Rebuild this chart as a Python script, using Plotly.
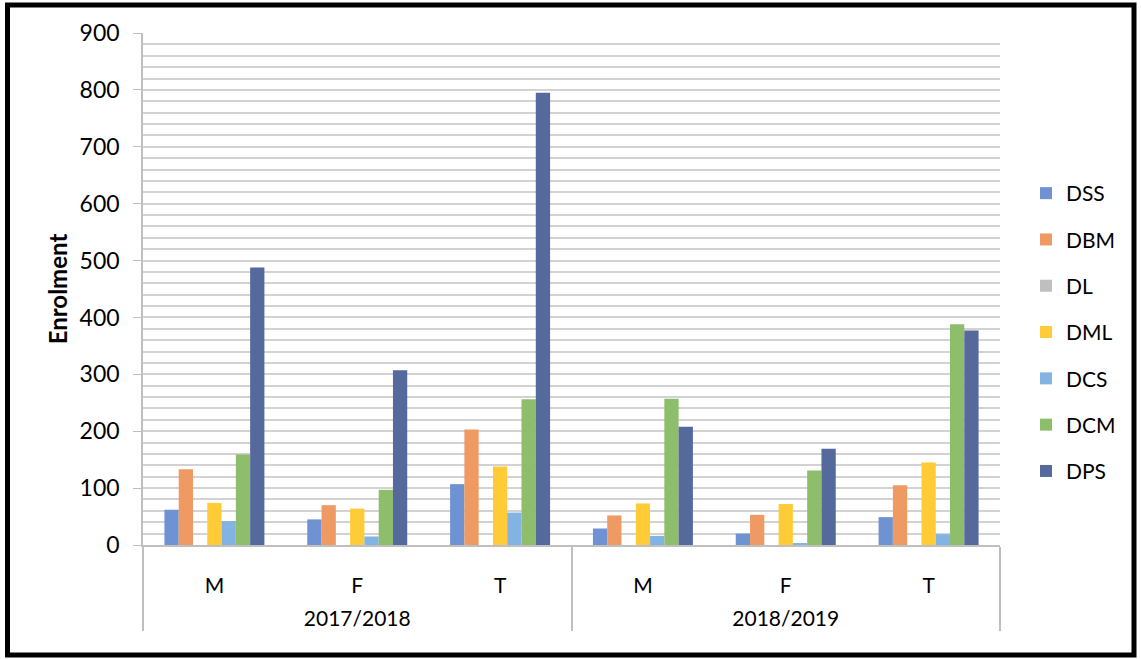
import plotly.graph_objects as go

# Enrolment by programme, sex and academic year
years = ["2017/2018"] * 3 + ["2018/2019"] * 3
sexes = ["M", "F", "T", "M", "F", "T"]

DSS = [62, 45, 107, 29, 20, 49]
DBM = [133, 70, 203, 52, 53, 105]
DL = [0, 0, 0, 0, 0, 0]
DML = [74, 64, 138, 73, 72, 145]
DCS = [42, 15, 57, 16, 3, 19]
DCM = [159, 97, 256, 257, 131, 388]
DPS = [488, 307, 795, 208, 169, 377]

series = [
    ("DSS", DSS, "#6E92D2"),
    ("DBM", DBM, "#EE9A62"),
    ("DL", DL, "#BFBFBF"),
    ("DML", DML, "#FFCB36"),
    ("DCS", DCS, "#82B3E3"),
    ("DCM", DCM, "#8EBE6C"),
    ("DPS", DPS, "#55699D"),
]

W, H = 1141, 659
L, R, T, B = 143, 1000, 33, 545  # plot area in pixels


def px_x(px):
    return (px - L) / (R - L)


def px_y(py):
    return (B - py) / (B - T)


# a blank first line pushes the year row further below the sex row
year_labels = ["\u00a0<br>" + y for y in years]

fig = go.Figure()
for i, (name, vals, color) in enumerate(series):
    fig.add_trace(go.Bar(
        x=[year_labels, sexes], y=vals, name=name,
        marker=dict(color=color, line=dict(width=0)),
        legendgroup=f"g{i}",
    ))

font = "Lato, 'Open Sans', sans-serif"

fig.update_layout(
    width=W, height=H,
    margin=dict(l=L, r=W - R, t=T, b=H - B),
    paper_bgcolor="white", plot_bgcolor="white",
    barmode="group", bargap=0.30, bargroupgap=0,
    font=dict(family=font, color="black", size=20),
    legend=dict(
        x=px_x(1026), y=px_y(173), xanchor="left", yanchor="top",
        font=dict(size=21, family=font), tracegroupgap=16,
        itemwidth=30, bgcolor="rgba(0,0,0,0)",
    ),
    showlegend=True,
)

fig.update_yaxes(
    range=[0, 900], dtick=100, tick0=0,
    showline=True, linecolor="#BFBFBF", linewidth=1.5,
    ticks="outside", ticklen=8, tickcolor="#BFBFBF",
    ticklabelstandoff=9,
    tickfont=dict(size=23, family=font),
    showgrid=True, gridcolor="#D2D2D2", gridwidth=2,
    minor=dict(dtick=20, showgrid=True, gridcolor="#D2D2D2", gridwidth=2),
    zeroline=False, automargin=False,
    title=dict(text="<b>Enrolment</b>", font=dict(size=24, family=font), standoff=5),
)

fig.update_xaxes(
    type="multicategory", automargin=False,
    showline=True, linecolor="#BFBFBF", linewidth=1.5,
    showdividers=True, dividercolor="#BFBFBF", dividerwidth=1.5,
    tickfont=dict(size=21, family=font),
    ticklabelstandoff=21,
)

# thick outer frame
fig.add_shape(
    type="rect", xref="paper", yref="paper",
    x0=px_x(7.5), x1=px_x(1134), y0=px_y(5), y1=px_y(655),
    line=dict(color="black", width=5), fillcolor="rgba(0,0,0,0)",
    layer="above",
)

fig.write_html("out.html")
